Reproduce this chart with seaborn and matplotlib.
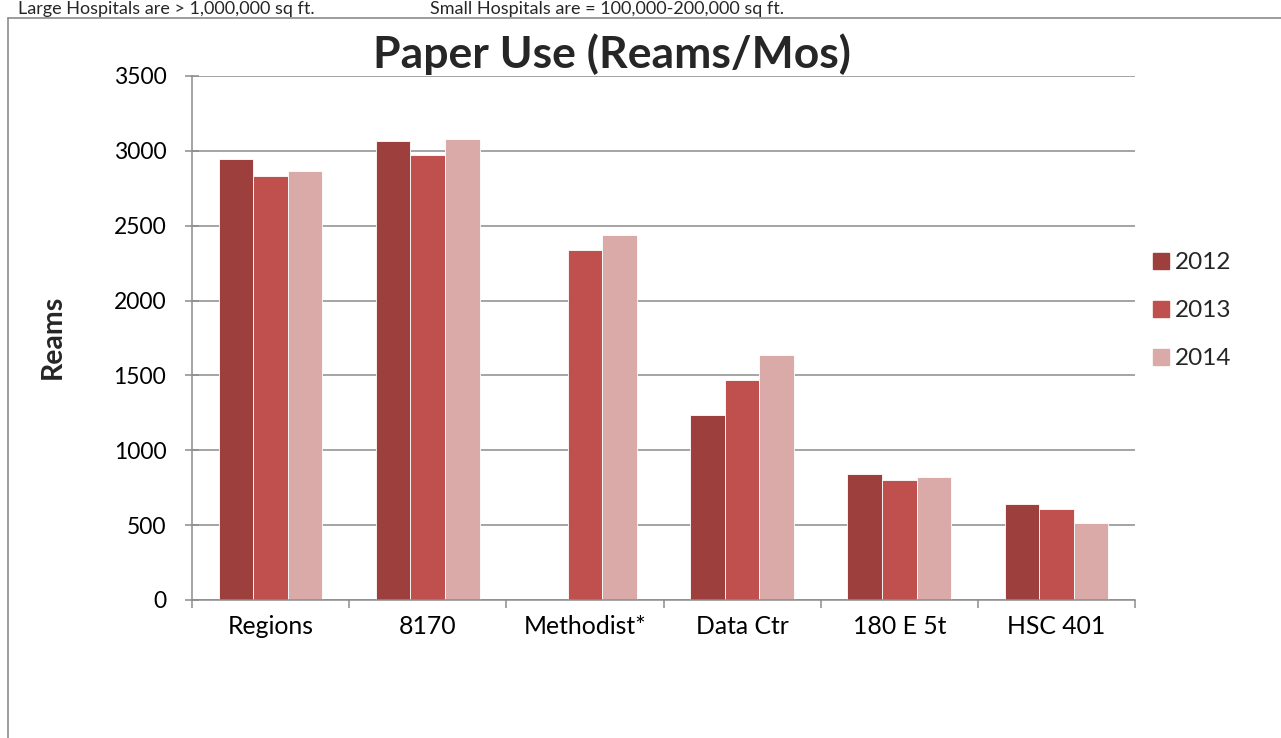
import numpy as np
import pandas as pd
import matplotlib
matplotlib.use("Agg")
import matplotlib.pyplot as plt
import seaborn as sns
from matplotlib.lines import Line2D

sites = ["Regions", "8170", "Methodist*", "Data Ctr", "180 E 5t", "HSC 401"]
years = ["2012", "2013", "2014"]
reams_2012 = [2946, 3069, np.nan, 1238, 840, 639]
reams_2013 = [2829, 2973, 2338, 1470, 804, 608]
reams_2014 = [2866, 3076, 2438, 1637, 822, 514]
colors = ["#9D3F3D", "#C0504D", "#DAAAA9"]

df = pd.DataFrame({
    "site": sites * 3,
    "year": [y for y in years for _ in sites],
    "reams": reams_2012 + reams_2013 + reams_2014,
})

sns.set_theme(style="white")
plt.rcParams["font.family"] = ["Lato", "DejaVu Sans"]

W, H = 1281, 738
fig = plt.figure(figsize=(W / 100, H / 100), dpi=100)
ax = fig.add_axes([192 / W, 1 - 600 / H, (1135 - 192) / W, (600 - 76) / H])

sns.barplot(data=df, x="site", y="reams", hue="year", order=sites, hue_order=years,
            palette=colors, saturation=1, width=0.66, edgecolor="white", linewidth=0.6,
            errorbar=None, ax=ax)

ax.set_ylim(0, 3500)
ax.set_xlim(-0.5, len(sites) - 0.5)
ax.set_yticks(np.arange(0, 3501, 500))
ax.yaxis.grid(True, color="#8C8C8C", linewidth=1.1)
ax.set_axisbelow(True)
for s in ["top", "right"]:
    ax.spines[s].set_visible(False)
for s in ["left", "bottom"]:
    ax.spines[s].set_color("#8C8C8C")
    ax.spines[s].set_linewidth(1.1)

ax.tick_params(axis="y", which="major", left=True, direction="inout", length=10, width=1.1,
               color="#8C8C8C", labelsize=16.5, pad=13.5, labelcolor="black")
ax.tick_params(axis="x", which="major", bottom=False, labelsize=17.8, pad=5, labelcolor="black")
ax.set_xticks(np.arange(-0.5, len(sites), 1.0), minor=True)
ax.tick_params(axis="x", which="minor", bottom=True, length=6, width=1.1, color="#8C8C8C")

ax.set_xlabel("")
ax.set_ylabel("Reams", fontsize=20.5, fontweight="bold")
ax.yaxis.set_label_coords((66 - 192) / (1135 - 192), (600 - 337) / (600 - 76))
ax.set_title("Paper Use (Reams/Mos)", fontsize=32, fontweight="bold", pad=6)
ax.title.set_x((612 - 192) / (1135 - 192))

handles = [Line2D([], [], marker="s", linestyle="none", markersize=12,
                  markerfacecolor=c, markeredgecolor=c) for c in colors]
ax.legend(handles, years, loc="center left", bbox_to_anchor=(0.992, 0.552), frameon=False,
          fontsize=17.5, handletextpad=0.05, labelspacing=1.12, handlelength=1.0)

# outer chart frame
fig.add_artist(Line2D([8 / W, 8 / W], [0, 1 - 18 / H], color="#8C8C8C", linewidth=1.2))
fig.add_artist(Line2D([8 / W, 1], [1 - 18 / H, 1 - 18 / H], color="#8C8C8C", linewidth=1.2))

fig.text(18 / W, 1 - 1 / H, "Large Hospitals are > 1,000,000 sq ft.", fontsize=13, va="top")
fig.text(430 / W, 1 - 1 / H, "Small Hospitals are = 100,000-200,000 sq ft.", fontsize=13, va="top")

fig.savefig("out.png", dpi=100, facecolor="white")
